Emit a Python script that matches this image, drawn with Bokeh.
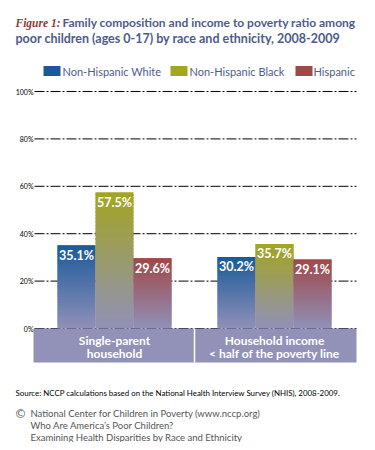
from bokeh.plotting import figure
from bokeh.models import Range1d
from bokeh.core.properties import value
from bokeh.embed import file_html
from bokeh.resources import INLINE

# ---------------- data ----------------
categories = ["Single-parent household", "Household income < half of the poverty line"]
category_lines = [["Single-parent", "household"], ["Household income", "< half of the poverty line"]]
series_names = ["Non-Hispanic White", "Non-Hispanic Black", "Hispanic"]
white = [35.1, 30.2]
black = [57.5, 35.7]
hispanic = [29.6, 29.1]
tick_values = [0, 20, 40, 60, 80, 100]
tick_labels = ["0%", "20%", "40%", "60%", "80%", "100%"]
title_prefix = "Figure 1:"
title_line1 = "Family composition and income to poverty ratio among"
title_line2 = "poor children (ages 0-17) by race and ethnicity, 2008-2009"
source_text = "Source: NCCP calculations based on the National Health Interview Survey (NHIS), 2008-2009."
credit_lines = ["National Center for Children in Poverty (www.nccp.org)",
                "Who Are America\u2019s Poor Children?",
                "Examining Health Disparities by Race and Ethnicity"]

# ---------------- styling ----------------
top_colors = ["#1b5a9a", "#a3a61f", "#a04848"]
bottom_color = "#9090b8"
band_color = "#9292b9"
title_color = "#4e5b8c"
fig_red = "#8b3a3a"
FONT = "Lato"

W, H = 367, 442
# picture-pixel -> data helpers (layout only)
X0, XS = 114.0, 160.0     # picture x of category 0 centre, px per category
Y0, YS = 328.0, 2.37      # picture y of 0 %, px per percent
def px(x):
    return (x - X0) / XS
def py(y):
    return (Y0 - y) / YS

p = figure(width=W, height=H, output_backend="svg", toolbar_location=None,
           x_range=Range1d(px(0), px(W)), y_range=Range1d(py(H), py(0)),
           x_axis_type=None, y_axis_type=None, min_border=0)
p.outline_line_color = None
p.grid.visible = False
p.background_fill_color = "white"

# gridlines
p.segment(x0=[px(34)] * len(tick_values), x1=[px(356)] * len(tick_values),
          y0=tick_values, y1=tick_values, line_color="black", line_width=1,
          line_dash="10 2 2 2")
p.text(x=[px(33)] * len(tick_values), y=tick_values, text=tick_labels,
       text_font=value(FONT), text_font_size="7px", text_align="right",
       text_baseline="middle", text_color="black")

# bars with vertical gradient
def hex2rgb(h):
    h = h.lstrip("#")
    return tuple(int(h[i:i + 2], 16) for i in (0, 2, 4))
def mix(c1, c2, t):
    a, b = hex2rgb(c1), hex2rgb(c2)
    return "#%02x%02x%02x" % tuple(int(round(a[i] + (b[i] - a[i]) * t)) for i in range(3))

bw = 38 / XS
offsets = [-bw, 0.0, bw]
N = 40
for s, vals in enumerate([white, black, hispanic]):
    xs, bots, tops, cols = [], [], [], []
    for g, v in enumerate(vals):
        for k in range(N):
            xs.append(g + offsets[s])
            bots.append(v * k / N)
            tops.append(min(v, v * (k + 1) / N + 0.8))
            cols.append(mix(bottom_color, top_colors[s], (k + 0.5) / N))
    p.vbar(x=xs, bottom=bots, top=tops, width=bw, fill_color=cols, line_color=None)
    p.text(x=[g + offsets[s] for g in range(len(vals))], y=vals,
           text=["%.1f%%" % v for v in vals], y_offset=10,
           text_font=value(FONT), text_font_style="bold", text_font_size="12.5px",
           text_color="white", text_align="center", text_baseline="middle")

# category band
p.quad(left=[px(33)], right=[px(356)], bottom=[py(362)], top=[0], fill_color=band_color, line_color=None)
p.segment(x0=[0.5], x1=[0.5], y0=[py(362)], y1=[0], line_color="white", line_width=1.5)
for g, lines in enumerate(category_lines):
    p.text(x=[g, g], y=[py(340), py(353)], text=lines, text_font=value(FONT),
           text_font_style="bold", text_font_size="12px", text_color="white",
           text_align="center", text_baseline="middle")

# title
p.text(x=[px(15)], y=[py(22)], text=[title_prefix], text_font=value("Liberation Serif"),
       text_font_style="bold italic", text_font_size="11.5px", text_color=fig_red,
       text_baseline="middle")
p.text(x=[px(62)], y=[py(22)], text=[title_line1], text_font=value(FONT),
       text_font_style="bold", text_font_size="12px", text_color=title_color,
       text_baseline="middle")
p.text(x=[px(15)], y=[py(38)], text=[title_line2], text_font=value(FONT),
       text_font_style="bold", text_font_size="12.5px", text_color=title_color,
       text_baseline="middle")

# legend
leg_sq_x = [51.5, 178.5, 303.5]
leg_tx_x = [62, 189, 313]
p.rect(x=[px(v) for v in leg_sq_x], y=[py(70.5)] * 3, width=17, height=10,
       width_units="screen", height_units="screen", fill_color=top_colors, line_color=None)
p.text(x=[px(v) for v in leg_tx_x], y=[py(70.5)] * 3, text=series_names,
       text_font=value(FONT), text_font_size="11px", text_color=title_color,
       text_baseline="middle")

# source and credits
p.text(x=[px(15)], y=[py(392)], text=[source_text], text_font=value(FONT),
       text_font_size="7.9px", text_color="black", text_baseline="middle")
p.text(x=[px(14)], y=[py(413)], text=["\u00a9"], text_font=value("DejaVu Sans"),
       text_font_size="12px", text_color="#555555", text_baseline="middle")
p.text(x=[px(30)] * 3, y=[py(413), py(425), py(437)], text=credit_lines,
       text_font=value(FONT), text_font_size="9.5px", text_color="#555555",
       text_baseline="middle")

open("out.html", "w").write(file_html(p, INLINE))
